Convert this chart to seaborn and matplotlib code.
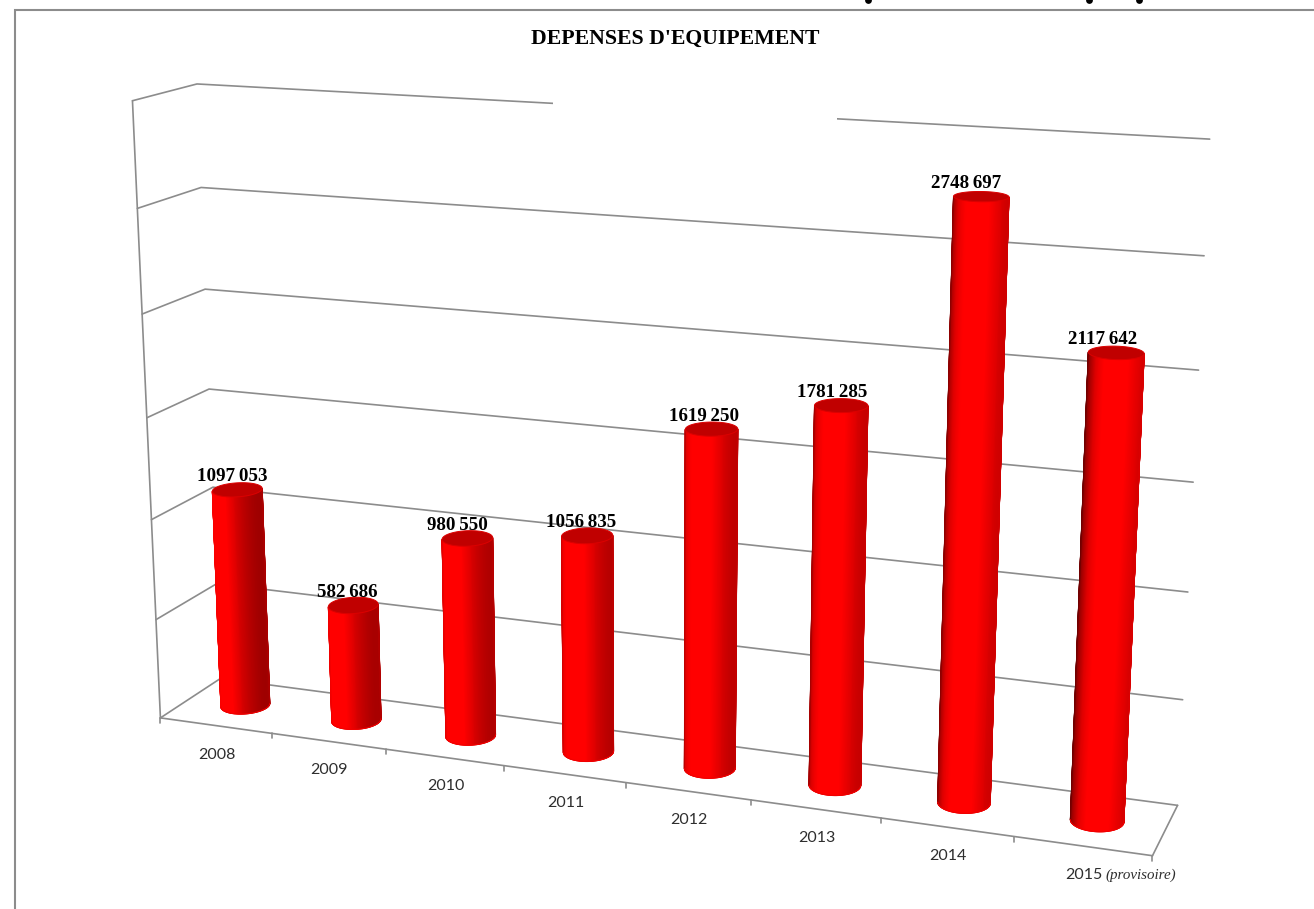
import numpy as np
import pandas as pd
import matplotlib
matplotlib.use("Agg")
import matplotlib.pyplot as plt
import seaborn as sns
from matplotlib.colors import ListedColormap

years = ["2008", "2009", "2010", "2011", "2012", "2013", "2014", "2015"]
spending = [1097053, 582686, 980550, 1056835, 1619250, 1781285, 2748697, 2117642]
value_ticks = [0, 500000, 1000000, 1500000, 2000000, 2500000, 3000000]
title_text = "DEPENSES D'EQUIPEMENT"
label_shift = [-5.5, -6, -10, -6.5, -7, -9, -15, -14]
heading_marks = [868, 1089, 1139]

sns.set_theme(style="white")
W, H = 1314, 909
fig = plt.figure(figsize=(W / 100, H / 100), dpi=100, facecolor="white")
ax = fig.add_axes([0, 0, 1, 1])
ax.set_xlim(0, W)
ax.set_ylim(H, 0)
ax.axis("off")

# Camera of the 3D box: category position, value, depth (0 front, 1 back wall)
Ymax = 3000000.0
left_front = [718, 619, 519, 418, 314, 209, 100]
left_front_x = [160, 156, 152, 147, 143, 137, 132]
left_back = [678, 584, 488, 390, 289, 187, 84]
left_back_x = [221, 216, 212, 210, 205, 201, 197]
right_back = [804, 700, 592, 482, 370, 255, 140]
right_back_x = [1178, 1183, 1188, 1193, 1198, 1204, 1210]
world, image = [], []
for k, v in enumerate(value_ticks):
    world += [(0, v / Ymax, 0), (0, v / Ymax, 1), (8, v / Ymax, 1)]
    image += [(left_front_x[k], left_front[k]), (left_back_x[k], left_back[k]),
              (right_back_x[k], right_back[k])]
world.append((8, 0, 0))
image.append((1152, 857))

A = []
b = []
for (X, Y, Z), (u, v) in zip(world, image):
    A.append([X, Y, Z, 1, 0, 0, 0, 0, -u * X, -u * Y, -u * Z])
    A.append([0, 0, 0, 0, X, Y, Z, 1, -v * X, -v * Y, -v * Z])
    b += [u, v]
p = np.linalg.lstsq(np.array(A, float), np.array(b, float), rcond=None)[0]
P = np.append(p, 1.0).reshape(3, 4)


def project(X, Y, Z):
    """Map category position, value and depth to figure pixels."""
    X, Y, Z = np.broadcast_arrays(np.asarray(X, float), np.asarray(Y, float) / Ymax, np.asarray(Z, float))
    q = P @ np.stack([X.ravel(), Y.ravel(), Z.ravel(), np.ones(X.size)])
    return (q[0] / q[2]).reshape(X.shape), (q[1] / q[2]).reshape(X.shape)


# Wall, floor and axis lines
LINE = "#8c8c8c"
rows = []
def add_line(name, xs, ys, zs):
    px, py = project(xs, ys, zs)
    for a, c in zip(px, py):
        rows.append({"line": name, "px": float(a), "py": float(c)})

for v in value_ticks:
    add_line(f"h{v}", [0, 0, 8], [v, v, v], [0, 1, 1])
add_line("left", [0, 0], [0, Ymax], [0, 0])
add_line("front", [0, 8], [0, 0], [0, 0])
add_line("right", [8, 8], [0, 0], [0, 1])
lines = pd.DataFrame(rows)
sns.lineplot(data=lines, x="px", y="py", units="line", estimator=None, sort=False,
             color=LINE, linewidth=1.2, ax=ax, zorder=1)

# Ticks under the front edge
for i in range(len(years) + 1):
    tx, ty = project(i, 0, 0)
    ax.plot([tx, tx], [ty, ty + 5], color=LINE, lw=1.2, zorder=1)

# Part of the top line is masked
ax.fill([553, 837, 837, 553], [92, 92, 128, 128], color="white", lw=0, zorder=1.5)

# Frame and the cut-off heading above it
ax.plot([15, 15, W], [H, 10, 10], color=LINE, lw=1.5, zorder=1, solid_joinstyle="miter")
ax.scatter(heading_marks, [0.0] * len(heading_marks), s=24, color="black", lw=0, zorder=1)

# Cylinders, lit from the front of the box
shade_map = ListedColormap(sns.blend_palette(["#500000", "#a00000", "#e00000", "#ff0000"], 256))
rx, rz = 0.193, 0.21
zc = 0.5
for i, v in enumerate(spending):
    xc = i + 0.5
    th = np.radians(np.linspace(0, 360, 721))
    bx, by = project(xc + rx * np.sin(th), 0, zc - rz * np.cos(th))
    il, ir = int(np.argmin(bx)), int(np.argmax(bx))
    arc = np.linspace(th[il] - 2 * np.pi, th[ir], 90)
    # the view turns around each cylinder as the category moves across the box
    turn = 26 - 52 * i / (len(spending) - 1)
    facing = np.sin(arc) * 90 + turn
    lit = np.interp(facing, [-116, -90, -60, -45, 30, 64, 116],
                    [0.1, 0.45, 0.85, 1, 1, 0.62, 0.33])
    mx = xc + rx * np.sin(arc)
    mz = zc - rz * np.cos(arc)
    gx, gy = project(np.stack([mx, mx]), np.stack([np.zeros_like(arc), np.full_like(arc, v)]),
                     np.stack([mz, mz]))
    colors = np.stack([lit, lit])
    ax.pcolormesh(gx, gy, colors, shading="gouraud", cmap=shade_map, vmin=0, vmax=1,
                  zorder=2 + i * 0.01)
    # smooth outline over the mesh edges
    z_edge = 2.002 + i * 0.01
    ax.plot(gx[:, 0], gy[:, 0], color=shade_map(lit[0]), lw=0.8, zorder=z_edge)
    ax.plot(gx[:, -1], gy[:, -1], color=shade_map(lit[-1]), lw=0.8, zorder=z_edge)
    ax.plot(gx[0], gy[0], color="#f00000", lw=0.8, zorder=z_edge)
    cx, cy = project(xc + rx * np.sin(th), v, zc - rz * np.cos(th))
    ax.fill(cx, cy, facecolor="#c00000", edgecolor="#dc0000", lw=0.7, zorder=2.005 + i * 0.01)
    tx, ty = project(xc, v, zc)
    label = f"{str(v)[:-3]}\u2009{str(v)[-3:]}"
    ax.text(tx + label_shift[i], ty - 13, label, ha="center", va="center", family="Liberation Serif",
            fontweight="bold", fontsize=13.7, color="black", zorder=5)

# Year labels beneath the front edge
TEXT = "#2e2e2e"
for i, y in enumerate(years):
    tx, ty = project(i + 0.5, 0, 0)
    if i < 7:
        ax.text(tx + 1, ty + 29, y, ha="center", va="center", family="Lato", fontsize=11.5,
                color=TEXT, zorder=5)
    else:
        ax.text(tx - 18, ty + 29, y, ha="left", va="center", family="Lato", fontsize=11.5,
                color=TEXT, zorder=5)
        ax.text(tx + 23, ty + 29, "(provisoire)", ha="left", va="center", family="Liberation Serif",
                style="italic", fontsize=10.8, color=TEXT, zorder=5)

ax.text(675, 39, title_text, ha="center", va="center", family="Liberation Serif",
        fontweight="bold", fontsize=15.7, color="black")

fig.savefig("out.png", dpi=100, facecolor="white")
